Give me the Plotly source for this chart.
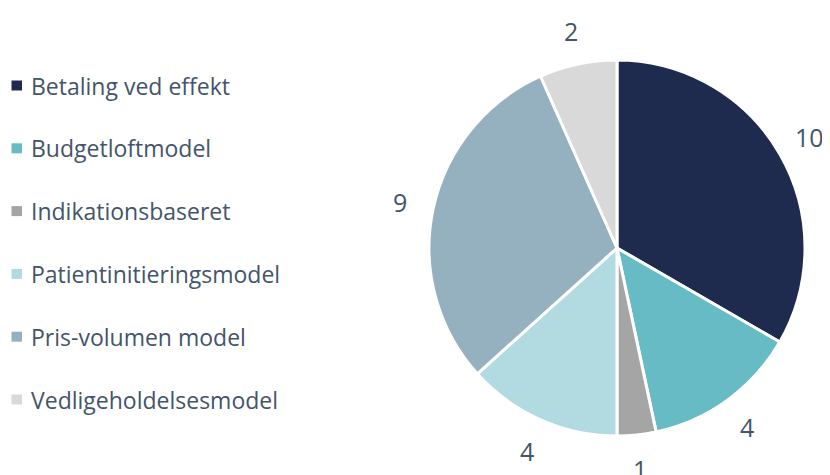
import math
import plotly.graph_objects as go

categories = ["Betaling ved effekt", "Budgetloftmodel", "Indikationsbaseret",
              "Patientinitieringsmodel", "Pris-volumen model", "Vedligeholdelsesmodel"]
values = [10, 4, 1, 4, 9, 2]
colors = ["#1F2A4F", "#67BBC5", "#A5A5A5", "#B1DBE1", "#95B0BF", "#D9D9D9"]
text_color = "#44546A"
FONT = "Open Sans"

W, H = 830, 475
OFF = 8  # page body margin
cx, cy, R = 617 - OFF, 248 - OFF, 188  # pixel centre / radius of pie (figure coords)

fig = go.Figure(go.Pie(
    labels=categories, values=values, sort=False, direction="clockwise",
    rotation=0, textinfo="none", hoverinfo="label+value",
    marker=dict(colors=colors, line=dict(color="white", width=3)),
    domain=dict(x=[(cx - R) / W, (cx + R) / W], y=[(H - cy - R) / H, (H - cy + R) / H]),
    showlegend=False,
))

# value labels outside the slices
total = sum(values)
cum = 0
for v in values:
    mid = (cum + v / 2) / total * 2 * math.pi
    cum += v
    r = R * 1.18
    px = cx + r * math.sin(mid)
    py = cy - r * math.cos(mid)
    fig.add_annotation(x=px / W, y=1 - py / H, xref="paper", yref="paper",
                       text=str(v), showarrow=False,
                       font=dict(family=FONT, size=25, color=text_color),
                       xanchor="center", yanchor="middle")

# custom legend
for i, (c, col) in enumerate(zip(categories, colors)):
    yc = 85.5 + i * 62.8 - OFF
    fig.add_shape(type="rect", xref="paper", yref="paper",
                  x0=(11.5 - OFF) / W, x1=(22 - OFF) / W,
                  y0=1 - (yc + 5) / H, y1=1 - (yc - 5) / H,
                  fillcolor=col, line=dict(width=0))
    fig.add_annotation(x=(29 - OFF) / W, y=1 - yc / H, xref="paper", yref="paper",
                       text=c, showarrow=False, xanchor="left", yanchor="middle",
                       font=dict(family=FONT, size=23, color=text_color))

fig.update_layout(width=W, height=H, margin=dict(l=0, r=0, t=0, b=0),
                  paper_bgcolor="white", plot_bgcolor="white")
fig.write_html("out.html")
